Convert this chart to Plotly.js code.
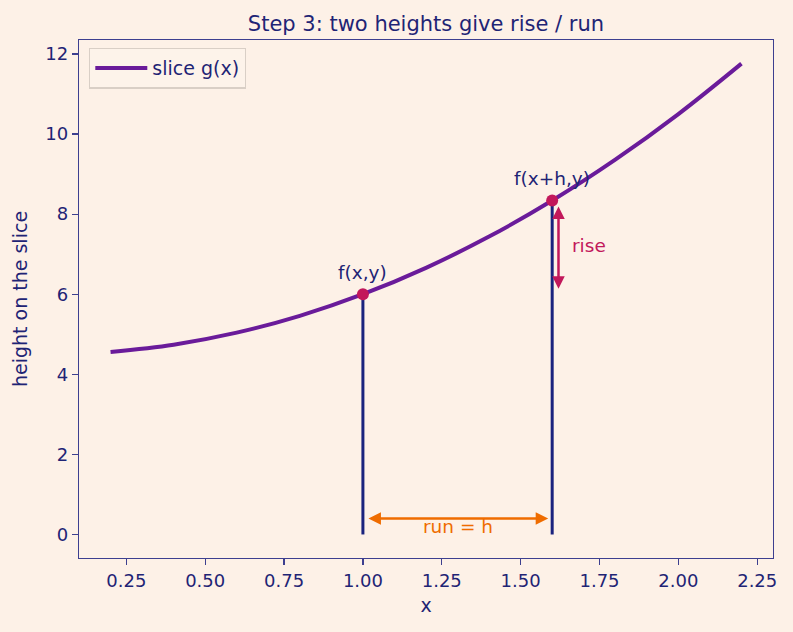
<!DOCTYPE html>
<html>
<head>
<meta charset="utf-8">
<script src="https://cdn.plot.ly/plotly-3.0.1.min.js"></script>
<style>
  html, body { margin: 0; padding: 0; background: #fdf1e7; }
  #chart { width: 793px; height: 632px; }
</style>
</head>
<body>
<div id="chart"></div>
<script>
// Slice of the surface along x, with y held fixed
const sliceX = [0.2, 0.4, 0.6, 0.8, 1.0, 1.2, 1.4, 1.6, 1.8, 2.0, 2.2];
const sliceY = [4.56, 4.74, 5.04, 5.46, 6.00, 6.66, 7.44, 8.34, 9.36, 10.50, 11.76];

// The two sampled heights
const x0 = 1.0, h = 0.6;
const pointX = [1.0, 1.6];
const pointY = [6.0, 8.34];
const pointLabels = ["f(x,y)", "f(x+h,y)"];

const xTicks = [0.25, 0.5, 0.75, 1.0, 1.25, 1.5, 1.75, 2.0, 2.25];
const xTickText = ["0.25", "0.50", "0.75", "1.00", "1.25", "1.50", "1.75", "2.00", "2.25"];
const yTicks = [0, 2, 4, 6, 8, 10, 12];

const bg = "#fdf1e7";
const ink = "#1f2475";
const spine = "#3d3f8f";
const purple = "#6a1b9a";
const crimson = "#c2185b";
const navy = "#1a237e";
const orange = "#ef6c00";
const font = "DejaVu Sans, sans-serif";

const traces = [
  {
    x: sliceX, y: sliceY, type: "scatter", mode: "lines",
    line: { color: purple, width: 4, shape: "spline" },
    name: "slice g(x)"
  },
  {
    x: [pointX[0], pointX[0]], y: [0, pointY[0]], type: "scatter", mode: "lines",
    line: { color: navy, width: 3 }, showlegend: false, hoverinfo: "skip"
  },
  {
    x: [pointX[1], pointX[1]], y: [0, pointY[1]], type: "scatter", mode: "lines",
    line: { color: navy, width: 3 }, showlegend: false, hoverinfo: "skip"
  },
  {
    x: pointX, y: pointY, type: "scatter", mode: "markers",
    marker: { color: crimson, size: 12 }, showlegend: false
  }
];

const annotations = [
  // point labels
  { x: pointX[0], y: pointY[0], text: pointLabels[0], showarrow: false, yshift: 22,
    font: { family: font, size: 18.5, color: ink } },
  { x: pointX[1], y: pointY[1], text: pointLabels[1], showarrow: false, yshift: 22,
    font: { family: font, size: 18.5, color: ink } },
  // rise arrow
  { x: pointX[1] + 0.02, y: pointY[1], ax: pointX[1] + 0.02, ay: pointY[0],
    xref: "x", yref: "y", axref: "x", ayref: "y", text: "", showarrow: true,
    arrowside: "end+start", arrowhead: 2, arrowsize: 1, arrowwidth: 2.5,
    arrowcolor: crimson, standoff: 6, startstandoff: 4 },
  { x: pointX[1] + 0.055, y: (pointY[0] + pointY[1]) / 2 + 0.05, text: "rise", showarrow: false,
    xanchor: "left", font: { family: font, size: 18.5, color: crimson } },
  // run arrow
  { x: x0 + h, y: 0.4, ax: x0, ay: 0.4,
    xref: "x", yref: "y", axref: "x", ayref: "y", text: "", showarrow: true,
    arrowside: "end+start", arrowhead: 2, arrowsize: 1, arrowwidth: 2.5,
    arrowcolor: orange, standoff: 4, startstandoff: 4 },
  { x: x0 + h / 2, y: 0.2, text: "run = h", showarrow: false,
    font: { family: font, size: 18.5, color: orange } }
];

const axisCommon = {
  showline: true, mirror: true, linecolor: spine, linewidth: 1.3,
  ticks: "outside", ticklen: 6, tickwidth: 1.3, tickcolor: spine,
  showgrid: false, zeroline: false,
  tickfont: { family: font, size: 18, color: ink }
};

const layout = {
  width: 793, height: 632,
  paper_bgcolor: bg, plot_bgcolor: bg,
  margin: { l: 79, r: 20, t: 40, b: 74 },
  font: { family: font, color: ink },
  title: {
    text: "Step 3: two heights give rise / run",
    font: { family: font, size: 21, color: ink },
    x: 0.5, xref: "paper", y: 1, yref: "paper", yanchor: "bottom", pad: { b: 9 }
  },
  xaxis: Object.assign({}, axisCommon, {
    range: [0.1, 2.3], tickvals: xTicks, ticktext: xTickText,
    title: { text: "x", font: { family: font, size: 19, color: ink }, standoff: 8 }
  }),
  yaxis: Object.assign({}, axisCommon, {
    range: [-0.588, 12.35], tickvals: yTicks,
    title: { text: "height on the slice", font: { family: font, size: 19, color: ink }, standoff: 12 }
  }),
  legend: {
    x: 0.0144, y: 0.985, xanchor: "left", yanchor: "top",
    bgcolor: "#fdf3ea", bordercolor: "#d9cfc6", borderwidth: 1.3,
    itemwidth: 52,
    font: { family: font, size: 19, color: ink }
  },
  annotations: annotations,
  showlegend: true
};

Plotly.newPlot("chart", traces, layout, { displayModeBar: false, staticPlot: true });
</script>
</body>
</html>
